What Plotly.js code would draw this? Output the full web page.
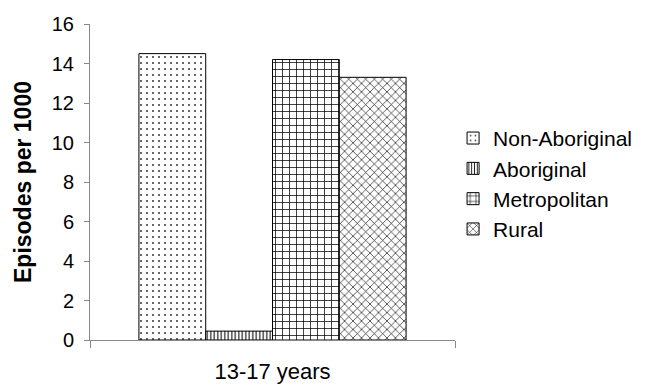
<!DOCTYPE html>
<html>
<head>
<meta charset="utf-8">
<script src="https://cdn.plot.ly/plotly-3.0.1.min.js"></script>
<style>html,body{margin:0;padding:0;background:#fff;}#chart{width:648px;height:385px;}</style>
</head>
<body>
<div id="chart"></div>
<script>
const categories = ["13-17 years"];
const seriesNames = ["Non-Aboriginal", "Aboriginal", "Metropolitan", "Rural"];
const nonAboriginal = [14.5];
const aboriginal = [0.45];
const metropolitan = [14.2];
const rural = [13.3];
const yTicks = [0, 2, 4, 6, 8, 10, 12, 14, 16];

const seriesValues = [nonAboriginal, aboriginal, metropolitan, rural];
const patterns = [
  {shape: ".", size: 6, solidity: 0.1, fgcolor: "#444", bgcolor: "#fff"},
  {shape: "|", size: 3.5, solidity: 0.3, fgcolor: "#000", bgcolor: "#fff"},
  {shape: "+", size: 7, solidity: 0.2, fgcolor: "#000", bgcolor: "#fff"},
  {shape: "x", size: 6, solidity: 0.2, fgcolor: "#000", bgcolor: "#fff"}
];

const traces = seriesNames.map((name, i) => ({
  type: "bar",
  name: name,
  x: categories,
  y: seriesValues[i],
  marker: {
    color: "#fff",
    line: {color: "#000", width: 1},
    pattern: patterns[i]
  }
}));

const font = "Liberation Sans, Arial, sans-serif";
const layout = {
  width: 648, height: 385,
  margin: {l: 90, r: 192, t: 24, b: 45},
  paper_bgcolor: "#fff", plot_bgcolor: "#fff",
  barmode: "group", bargap: 0.268, bargroupgap: 0,
  showlegend: true,
  legend: {x: 0.992, y: 0.494, yanchor: "middle", xanchor: "left",
    font: {family: font, size: 21, color: "#000"}, bgcolor: "rgba(0,0,0,0)",
    itemwidth: 30, tracegroupgap: 0},
  font: {family: font, color: "#000"},
  xaxis: {
    type: "category", showline: true, linecolor: "#888", linewidth: 1,
    ticks: "outside", tickson: "boundaries", ticklen: 7, tickcolor: "#888",
    showgrid: false, zeroline: false, ticklabelstandoff: 12,
    tickfont: {family: font, size: 22, color: "#000"}, automargin: false
  },
  yaxis: {
    range: [0, 16], tickvals: yTicks, ticktext: yTicks.map(String),
    showline: true, linecolor: "#888", linewidth: 1,
    ticks: "outside", ticklen: 5, tickcolor: "#888", ticklabelstandoff: 6,
    showgrid: false, zeroline: false,
    tickfont: {family: font, size: 20, color: "#000"},
    title: {text: "<b>Episodes per 1000</b>", font: {family: font, size: 23, color: "#000"}, standoff: 13},
    automargin: false
  }
};

Plotly.newPlot("chart", traces, layout, {staticPlot: true, displayModeBar: false});
</script>
</body>
</html>
